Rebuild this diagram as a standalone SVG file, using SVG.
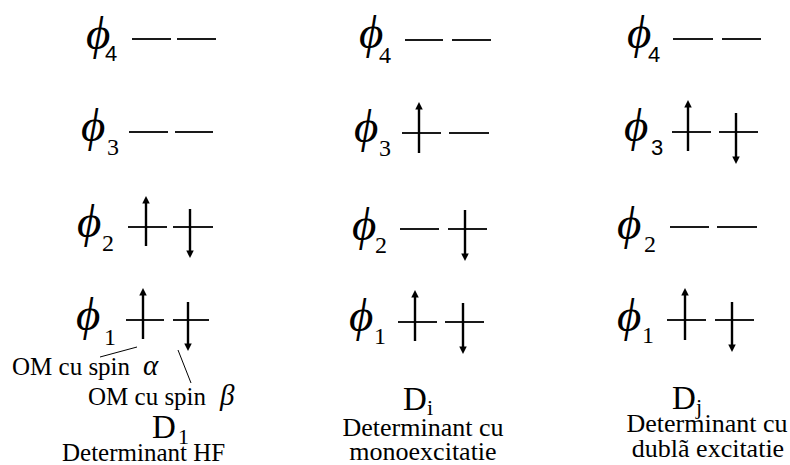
<svg xmlns="http://www.w3.org/2000/svg" width="790" height="465" viewBox="0 0 790 465">
<style>
.phi{font-family:"Liberation Serif","Times New Roman",serif;font-style:italic;font-size:47px;fill:#000}
.sub{font-family:"Liberation Serif","Times New Roman",serif;font-size:24px;fill:#000}
.subs{font-family:"Liberation Sans",Arial,sans-serif;font-size:22px;fill:#000}
.lbl{font-family:"Liberation Serif","Times New Roman",serif;font-size:25px;fill:#000}
.lbl2{font-family:"Liberation Serif","Times New Roman",serif;font-size:26px;fill:#000}
.big{font-family:"Liberation Serif","Times New Roman",serif;font-size:33px;fill:#000}
.bsub{font-family:"Liberation Serif","Times New Roman",serif;font-size:22px;fill:#000}
.gr{font-family:"Liberation Serif","Times New Roman",serif;font-style:italic;font-size:29px;fill:#000}
.lvl{stroke:#1a1a1a;stroke-width:1.8;fill:none}
.arr{stroke:#000;stroke-width:2.4;fill:none;marker-end:url(#ah)}
.ptr{stroke:#000;stroke-width:1;fill:none}
</style>
<defs>
<marker id="ah" viewBox="0 0 10 10" refX="4" refY="5" markerWidth="10" markerHeight="7.5" markerUnits="userSpaceOnUse" orient="auto">
<path d="M0,0 L10,5 L0,10 z" fill="#000"/>
</marker>
</defs>

<!-- Column 1 -->
<g id="col1-phi4">
<text class="phi" x="86" y="49">ϕ</text><text class="subs" x="105" y="61">4</text>
<path class="lvl" d="M132,39 H171 M177,39 H216"/>
</g>
<g id="col1-phi3">
<text class="phi" x="81" y="141">ϕ</text><text class="sub" x="107" y="155">3</text>
<path class="lvl" d="M129,132 H168 M175,132 H213"/>
</g>
<g id="col1-phi2">
<text class="phi" x="77" y="237">ϕ</text><text class="sub" x="102" y="251">2</text>
<path class="lvl" d="M128,227 H167 M173,227 H213"/>
</g>
<g id="col1-phi1">
<text class="phi" x="76" y="330">ϕ</text><text class="sub" x="104" y="345">1</text>
<path class="lvl" d="M126,320 H164 M173,320 H209"/>
</g>

<!-- Column 2 -->
<g id="col2-phi4">
<text class="phi" x="359" y="48">ϕ</text><text class="sub" x="379" y="63">4</text>
<path class="lvl" d="M405,40 H443 M452,40 H491"/>
</g>
<g id="col2-phi3">
<text class="phi" x="354" y="142">ϕ</text><text class="sub" x="379" y="156">3</text>
<path class="lvl" d="M402,133 H441 M449,133 H489"/>
</g>
<g id="col2-phi2">
<text class="phi" x="352" y="240">ϕ</text><text class="sub" x="375" y="253">2</text>
<path class="lvl" d="M400,229 H439 M448,229 H487"/>
</g>
<g id="col2-phi1">
<text class="phi" x="349" y="331">ϕ</text><text class="sub" x="374" y="344">1</text>
<path class="lvl" d="M398,322 H437 M445,322 H484"/>
</g>

<!-- Column 3 -->
<g id="col3-phi4">
<text class="phi" x="627" y="48">ϕ</text><text class="subs" x="648" y="62">4</text>
<path class="lvl" d="M673,39 H713 M722,39 H761"/>
</g>
<g id="col3-phi3">
<text class="phi" x="624" y="141">ϕ</text><text class="subs" x="651" y="155">3</text>
<path class="lvl" d="M672,132 H711 M719,132 H758"/>
</g>
<g id="col3-phi2">
<text class="phi" x="617" y="239">ϕ</text><text class="sub" x="644" y="252">2</text>
<path class="lvl" d="M670,227 H709 M717,227 H757"/>
</g>
<g id="col3-phi1">
<text class="phi" x="617" y="331">ϕ</text><text class="sub" x="642" y="343">1</text>
<path class="lvl" d="M667,320 H706 M715,320 H754"/>
</g>

<!-- Electron spin arrows and pointer lines -->
<g id="connectors">
<line class="arr" x1="146" y1="246" x2="146" y2="200.5"/>
<line class="arr" x1="190" y1="209" x2="190" y2="253.6"/>
<line class="arr" x1="143" y1="339" x2="143" y2="292.4"/>
<line class="arr" x1="188" y1="302" x2="188" y2="346.6"/>
<line class="arr" x1="419" y1="153" x2="419" y2="106.4"/>
<line class="arr" x1="465" y1="210" x2="465" y2="256.6"/>
<line class="arr" x1="415" y1="341" x2="415" y2="294.4"/>
<line class="arr" x1="463" y1="303" x2="463" y2="349.6"/>
<line class="arr" x1="688" y1="151" x2="688" y2="104.4"/>
<line class="arr" x1="736" y1="113" x2="736" y2="159.6"/>
<line class="arr" x1="685" y1="340" x2="685" y2="292.4"/>
<line class="arr" x1="732" y1="302" x2="732" y2="347.6"/>
<line class="ptr" x1="100" y1="357" x2="137" y2="347"/>
<line class="ptr" x1="178" y1="350" x2="191" y2="383"/>
</g>

<!-- Labels -->
<g id="label-alpha">
<text class="lbl" x="12" y="375">OM cu spin</text><text class="gr" x="143" y="375">α</text>
</g>
<g id="label-beta">
<text class="lbl" x="88" y="405">OM cu spin</text><text class="gr" x="220" y="405">β</text>
</g>
<g id="label-D1">
<text class="big" x="152" y="438">D</text><text class="bsub" x="178" y="444">1</text>
<text class="lbl" x="62" y="461">Determinant HF</text>
</g>
<g id="label-Di">
<text class="big" x="403" y="410">D</text><text class="bsub" x="427" y="415">i</text>
<text class="lbl2" x="423" y="436" text-anchor="middle">Determinant cu</text>
<text class="lbl2" x="423" y="460" text-anchor="middle">monoexcitatie</text>
</g>
<g id="label-Dj">
<text class="big" x="672" y="409">D</text><text class="bsub" x="696" y="414">j</text>
<text class="lbl2" x="707" y="432" text-anchor="middle">Determinant cu</text>
<text class="lbl2" x="708" y="457" text-anchor="middle">dublã excitatie</text>
</g>
</svg>
